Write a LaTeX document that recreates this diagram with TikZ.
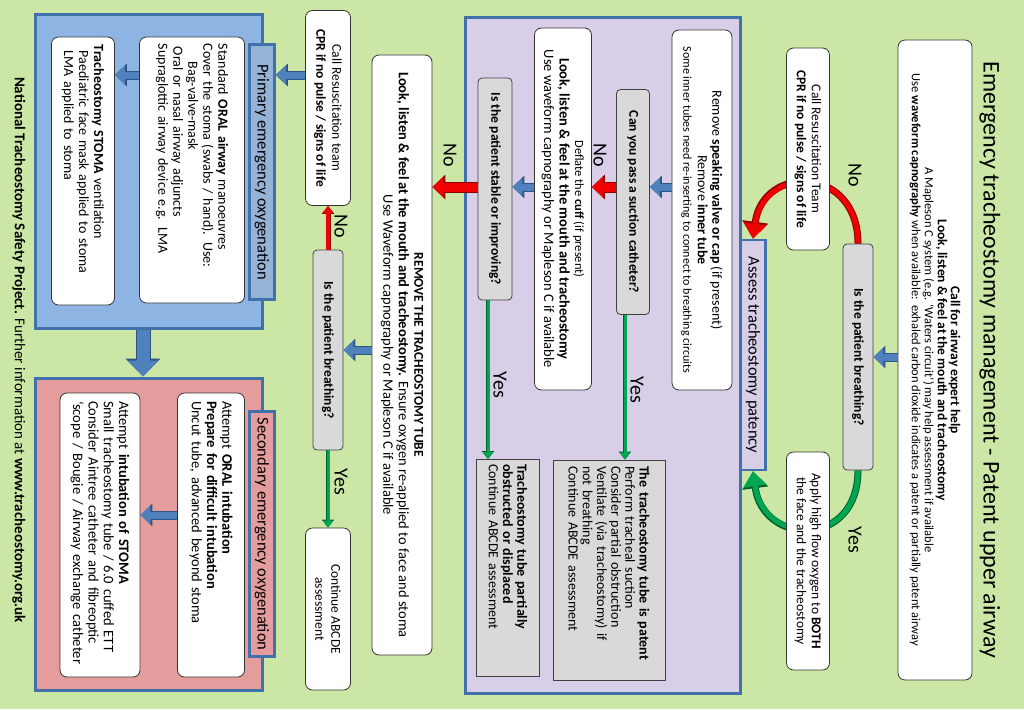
\documentclass[tikz,border=0pt]{standalone}
\usepackage{fontspec}
\setmainfont{Carlito}
\usetikzlibrary{arrows.meta,calc}
\pgfdeclarelayer{back}
\pgfdeclarelayer{mid}
\pgfsetlayers{back,mid,main}
\definecolor{bggreen}{RGB}{204,231,165}
\definecolor{purp}{RGB}{216,206,232}
\definecolor{pblue}{RGB}{141,180,226}
\definecolor{phead}{RGB}{149,179,215}
\definecolor{ppink}{RGB}{229,156,156}
\definecolor{bord}{RGB}{65,113,170}
\definecolor{arrblue}{RGB}{79,129,189}
\definecolor{arrbluedark}{RGB}{45,85,135}
\definecolor{gfill}{RGB}{217,217,217}
\definecolor{gline}{RGB}{0,166,81}
\definecolor{glinedark}{RGB}{0,95,45}
\definecolor{rline}{RGB}{240,0,0}
\definecolor{rlinedark}{RGB}{140,0,0}
\tikzset{
  rtext/.style={rotate=-90, align=center, inner sep=2pt},
  wbox/.style={rtext, draw=black!80, fill=white, rounded corners=7pt, line width=0.8pt},
  gbox/.style={rtext, draw=black!75, fill=gfill, rounded corners=4pt, line width=0.8pt},
  grect/.style={rtext, draw=black!75, fill=gfill, line width=0.8pt, align=left},
  head/.style={rtext, draw=bord, line width=2.5pt, inner sep=0pt},
  panel/.style={draw=bord, line width=3pt},
  blabel/.style={rotate=-90, font=\fontsize{20}{22}\selectfont, inner sep=0pt},
  barrow/.style={draw=arrblue, line width=7pt, -{Triangle[width=18pt,length=10pt]},
    preaction={draw=arrbluedark, line width=9pt, -{Triangle[width=22pt,length=12pt]}}},
  bigarrow/.style={draw=arrblue, line width=13pt, -{Triangle[width=30pt,length=16pt]},
    preaction={draw=arrbluedark, line width=15pt, -{Triangle[width=34pt,length=18pt]}}},
  rarrow/.style={draw=rline, line width=9pt, -{Triangle[width=20pt,length=11pt]},
    preaction={draw=rlinedark, line width=11pt, -{Triangle[width=24pt,length=13pt]}}},
  rarc/.style={draw=rline, line width=5pt, -{Triangle[width=22pt,length=15pt]},
    preaction={draw=rlinedark, line width=7pt, -{Triangle[width=25pt,length=17pt]}}},
  garc/.style={draw=gline, line width=5pt, -{Triangle[width=22pt,length=15pt]},
    preaction={draw=glinedark, line width=7pt, -{Triangle[width=25pt,length=17pt]}}},
  gthin/.style={draw=gline, line width=3pt, -{Triangle[width=10pt,length=7pt]},
    preaction={draw=glinedark, line width=4.5pt, -{Triangle[width=12pt,length=8pt]}}},
  rthin/.style={draw=rline, line width=3.5pt, -{Triangle[width=10pt,length=7pt]},
    preaction={draw=rlinedark, line width=5pt, -{Triangle[width=12pt,length=8pt]}}},
}
\begin{document}
\begin{tikzpicture}[x=1pt,y=-1pt]
\begin{pgfonlayer}{back}
\fill[bggreen] (0,0) rectangle (1024,709);
\end{pgfonlayer}
\useasboundingbox (0,0) rectangle (1024,709);

% panels
\node[panel, fill=purp, minimum width=275, minimum height=675] (purple) at (602.5,355.5) {};
\node[panel, fill=pblue, minimum width=227, minimum height=313] (prim) at (148.5,171.5) {};
\node[panel, fill=ppink, minimum width=227, minimum height=312] (sec) at (148.5,534) {};

% title and footer
\node[rtext, font=\fontsize{24}{28}\selectfont] (title) at (990,360) {Emergency tracheostomy management - Patent upper airway};
\node[rtext, font=\fontsize{15}{18}\selectfont] (foot) at (19,350) {\textbf{National Tracheostomy Safety Project.} Further information at \textbf{www.tracheostomy.org.uk}};

% top section
\node[wbox, minimum width=640, minimum height=74, font=\fontsize{12.5}{13}\selectfont] (b1) at (935,360)
 {{\fontsize{13.5}{13}\selectfont\bfseries Call for airway expert help}\\
  {\fontsize{13.5}{13}\selectfont\bfseries Look, listen \& feel at the mouth and tracheostomy}\\
  A Mapleson C system (e.g. `Waters circuit') may help assessment if available\\
  Use \textbf{waveform capnography} when available:\ \ exhaled carbon dioxide indicates a patent or partially patent airway};
\node[gbox, minimum width=226, minimum height=30, font=\bfseries\fontsize{13.5}{15}\selectfont] (br1) at (858,357) {Is the patient breathing?};
\node[wbox, minimum width=202, minimum height=43, font=\fontsize{13.5}{15}\selectfont] (cr1) at (808,149) {Call Resuscitation Team\\\textbf{CPR if no pulse / signs of life}};
\node[wbox, minimum width=218, minimum height=43, font=\fontsize{13.5}{15}\selectfont] (ap1) at (808,561) {Apply high flow oxygen to \textbf{BOTH}\\the face and the tracheostomy};
\node[blabel] (no1) at (855,175) {No};
\node[blabel] (yes1) at (855,540) {Yes};
\node[head, fill=purp, minimum width=230, minimum height=25, font=\fontsize{16.5}{18}\selectfont] (as) at (753,355) {Assess tracheostomy patency};

% purple panel content
\node[wbox, minimum width=360, minimum height=60, font=\fontsize{14}{14.5}\selectfont] (rm) at (702,210)
 {Remove \textbf{speaking valve or cap} (if present)\\Remove \textbf{inner tube}\\{\fontsize{12}{17}\selectfont Some inner tubes need re-inserting to connect to breathing circuits}};
\node[gbox, minimum width=225, minimum height=33, font=\bfseries\fontsize{13.5}{15}\selectfont] (su) at (633,202) {Can you pass a suction catheter?};
\node[blabel] (no2) at (600,155) {No};
\node[blabel] (yes2) at (637,390) {Yes};
\node[wbox, minimum width=362, minimum height=57, font=\fontsize{14.5}{15.5}\selectfont] (df) at (563,209)
 {{\fontsize{12.5}{15.5}\selectfont Deflate the \textbf{cuff} (if present)}\\\textbf{Look, listen \& feel at the mouth and tracheostomy}\\Use waveform capnography or Mapleson C if available};
\node[gbox, minimum width=222, minimum height=34, font=\bfseries\fontsize{13.5}{15}\selectfont] (st) at (495,189) {Is the patient stable or improving?};
\node[blabel] (yes4) at (500,385) {Yes};
\node[blabel] (no4) at (450,155) {No};
\node[grect, minimum width=220, minimum height=112, text width=208, font=\fontsize{14}{14.2}\selectfont] (pt) at (609,570)
 {\textbf{The tracheostomy tube is patent}\\Perform tracheal suction\\Consider partial obstruction\\Ventilate (via tracheostomy) if\\not breathing\\Continue ABCDE assessment};
\node[grect, minimum width=217, minimum height=63, text width=208, font=\fontsize{14}{14.2}\selectfont] (ob) at (508,568)
 {\textbf{Tracheostomy tube partially}\\\textbf{obstructed or displaced}\\Continue ABCDE assessment};

% middle column
\node[wbox, minimum width=600, minimum height=60, font=\fontsize{14.5}{15.5}\selectfont] (rm2) at (402,355)
 {{\fontsize{13.5}{15.5}\selectfont\textbf{REMOVE THE TRACHEOSTOMY TUBE}}\\\textbf{Look, listen \& feel at the mouth and tracheostomy.} Ensure oxygen re-applied to face and stoma\\Use Waveform capnography or Mapleson C if available};
\node[gbox, minimum width=200, minimum height=30, font=\bfseries\fontsize{13.5}{15}\selectfont] (br2) at (328,350) {Is the patient breathing?};
\node[wbox, minimum width=195, minimum height=45, font=\fontsize{13.5}{16}\selectfont] (cr2) at (328,108) {Call Resuscitation team\\\textbf{CPR if no pulse / signs of life}};
\node[wbox, minimum width=162, minimum height=45, font=\fontsize{13.5}{16}\selectfont] (ct) at (328,609) {Continue ABCDE\\assessment};
\node[blabel] (no3) at (341,226) {No};
\node[blabel] (yes3) at (341,482) {Yes};

% primary
\node[head, fill=phead, minimum width=255, minimum height=25, font=\fontsize{16.5}{18}\selectfont] (ph) at (262,172) {Primary emergency oxygenation};
\node[wbox, minimum width=266, minimum height=105, text width=252, align=left, font=\fontsize{14}{15}\selectfont] (pb) at (192,170)
 {Standard \textbf{ORAL airway} manoeuvres\\Cover the stoma (swabs / hand). Use:\\\hspace*{18pt}Bag-valve-mask\\\hspace*{3pt}Oral or nasal airway adjuncts\\Supraglottic airway device e.g. LMA};
\node[wbox, minimum width=268, minimum height=63, text width=252, align=left, font=\fontsize{14}{15}\selectfont] (sb) at (83,171)
 {\textbf{Tracheostomy STOMA} ventilation\\\hspace*{6pt}Paediatric face mask applied to stoma\\\hspace*{6pt}LMA applied to stoma};

% secondary
\node[head, fill=ppink, minimum width=245, minimum height=25, font=\fontsize{16.5}{18}\selectfont] (sh) at (262,534) {Secondary emergency oxygenation};
\node[wbox, minimum width=284, minimum height=67, text width=268, align=left, font=\fontsize{14.5}{15.3}\selectfont] (oi) at (211,535)
 {Attempt \textbf{ORAL intubation}\\\textbf{Prepare for difficult intubation}\\Uncut tube, advanced beyond stoma};
\node[wbox, minimum width=284, minimum height=80, text width=268, align=left, font=\fontsize{14.5}{15.3}\selectfont] (si) at (100,535)
 {Attempt \textbf{intubation of STOMA}\\Small tracheostomy tube / 6.0 cuffed ETT\\Consider Aintree catheter and fibreoptic\\`scope / Bougie / Airway exchange catheter};

% helper coordinates
\coordinate (r1) at (0,187);
\coordinate (r2) at (0,75);
\coordinate (r4) at (0,515);
\coordinate (g1) at (625,0);
\coordinate (g2) at (488,0);
\coordinate (c3) at (143,0);

% arcs behind boxes
\begin{pgfonlayer}{mid}
\draw[rarc] (br1.west) .. controls +(0,-78) and +(10,-75) .. (as.west);
\draw[garc] (br1.east) .. controls +(0,78) and +(10,75) .. (as.east);
\end{pgfonlayer}

% connectors
\draw[barrow] (b1.south |- br1.north) -- (br1.north);
\draw[barrow] (rm.south |- r1) -- (su.north |- r1);
\draw[rarrow] (su.south |- r1) -- (df.north |- r1);
\draw[gthin] (g1 |- su.east) -- (g1 |- pt.west);
\draw[barrow] (df.south |- r1) -- (st.north |- r1);
\draw[rarrow] (st.south |- r1) -- (rm2.north |- r1);
\draw[gthin] (g2 |- st.east) -- (g2 |- ob.west);
\draw[barrow] (rm2.south |- br2.north) -- (br2.north);
\draw[rthin] (br2.west) -- (cr2.east);
\draw[gthin] (br2.east) -- (ct.west);
\draw[barrow] (cr2.south |- r2) -- (ph.north |- r2);
\draw[barrow] (pb.south |- r2) -- (sb.north |- r2);
\draw[bigarrow] (c3 |- prim.south) -- (c3 |- sec.north);
\draw[barrow] (oi.south |- r4) -- (si.north |- r4);
\end{tikzpicture}
\end{document}
